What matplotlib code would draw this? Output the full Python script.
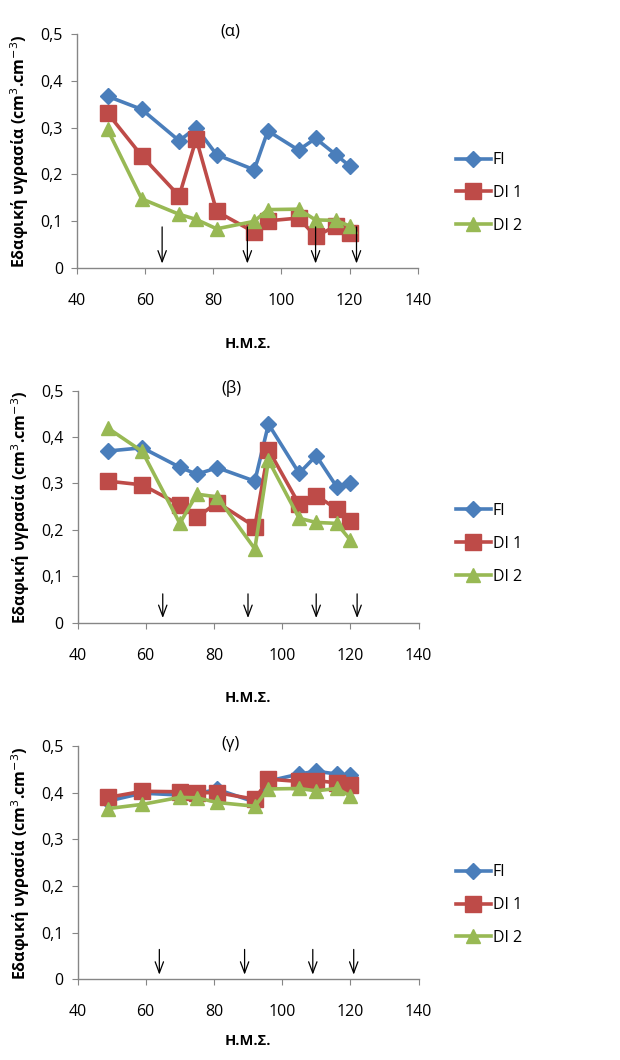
import numpy as np
import matplotlib
matplotlib.use('Agg')
import matplotlib.pyplot as plt
from matplotlib.ticker import FuncFormatter

plt.rcParams['font.family'] = ['Open Sans', 'DejaVu Sans']

# days (Η.Μ.Σ.)
days = [49, 59, 70, 75, 81, 92, 96, 105, 110, 116, 120]

# (α)
fi_a = [0.367, 0.339, 0.272, 0.300, 0.242, 0.210, 0.293, 0.252, 0.277, 0.242, 0.218]
di1_a = [0.331, 0.240, 0.154, 0.276, 0.121, 0.077, 0.101, 0.107, 0.068, 0.090, 0.075]
di2_a = [0.296, 0.148, 0.115, 0.104, 0.084, 0.100, 0.125, 0.126, 0.103, 0.102, 0.090]

# (β)
fi_b = [0.370, 0.377, 0.335, 0.320, 0.334, 0.305, 0.428, 0.322, 0.360, 0.293, 0.300]
di1_b = [0.305, 0.297, 0.254, 0.227, 0.259, 0.207, 0.373, 0.255, 0.274, 0.245, 0.220]
di2_b = [0.419, 0.369, 0.214, 0.277, 0.271, 0.159, 0.350, 0.225, 0.216, 0.214, 0.178]

# (γ)
fi_c = [0.382, 0.399, 0.395, 0.398, 0.407, 0.380, 0.425, 0.440, 0.446, 0.440, 0.437]
di1_c = [0.390, 0.403, 0.402, 0.400, 0.400, 0.386, 0.429, 0.424, 0.426, 0.421, 0.417]
di2_c = [0.366, 0.375, 0.390, 0.389, 0.379, 0.371, 0.408, 0.409, 0.404, 0.409, 0.393]

# irrigation arrows
arrows_x = [[65, 90, 110, 122], [65, 90, 110, 122], [64, 89, 109, 121]]
arrow_top = [0.094, 0.068, 0.07]

titles = ['(α)', '(β)', '(γ)']
series = [(fi_a, di1_a, di2_a), (fi_b, di1_b, di2_b), (fi_c, di1_c, di2_c)]
names = ['FI', 'DI 1', 'DI 2']
colors = ['#4A7EBB', '#BE4B48', '#98B954']
markers = ['D', 's', '^']
msizes = [8.5, 11, 10]

# axes boxes (left, bottom, width, height) in figure fraction
boxes = [(0.124, 0.747, 0.550, 0.221),
         (0.125, 0.4126, 0.550, 0.2188),
         (0.125, 0.0761, 0.550, 0.2201)]
leg_y = [0.818, 0.487, 0.146]
xlab_pad = [20, 20, 10]

fig = plt.figure(figsize=(6.2, 10.6), dpi=100)
fmt = FuncFormatter(lambda v, p: '0' if abs(v) < 1e-9 else ('%.1f' % v).replace('.', ','))

for i in range(3):
    ax = fig.add_axes(boxes[i])
    for vals, nm, c, m, ms in zip(series[i], names, colors, markers, msizes):
        ax.plot(days, vals, color=c, lw=2.6, marker=m, ms=ms, label=nm,
                markeredgecolor=c)
    for xa in arrows_x[i]:
        ax.annotate('', xy=(xa, 0.004), xytext=(xa, arrow_top[i]),
                    arrowprops=dict(arrowstyle='->,head_length=0.8,head_width=0.3',
                                    color='black', lw=0.9))
    ax.set_xlim(40, 140)
    ax.set_ylim(0, 0.5)
    ax.set_xticks([40, 60, 80, 100, 120, 140])
    ax.set_yticks([0, 0.1, 0.2, 0.3, 0.4, 0.5])
    ax.yaxis.set_major_formatter(fmt)
    ax.spines['top'].set_visible(False)
    ax.spines['right'].set_visible(False)
    for s in ['left', 'bottom']:
        ax.spines[s].set_color('#868686')
        ax.spines[s].set_linewidth(1.0)
    ax.tick_params(axis='both', direction='out', length=4, color='#868686',
                   labelsize=11.5, pad=6)
    ax.tick_params(axis='x', pad=14)
    ax.text(85, 0.505, titles[i], ha='center', va='center', fontsize=12)
    ax.set_xlabel('Η.Μ.Σ.', fontsize=10.5, fontweight='bold', labelpad=xlab_pad[i])
    ax.set_ylabel('Εδαφική υγρασία (cm$^{3}$.cm$^{-3}$)', fontsize=11.5,
                  fontweight='bold', labelpad=7)
    fig.legend(handles=ax.get_lines(), labels=names, loc='center left',
               bbox_to_anchor=(0.725, leg_y[i]), frameon=False, fontsize=11.5,
               handlelength=2.2, handletextpad=0.1, labelspacing=1.05,
               borderaxespad=0)

fig.savefig('out.png', dpi=100)
